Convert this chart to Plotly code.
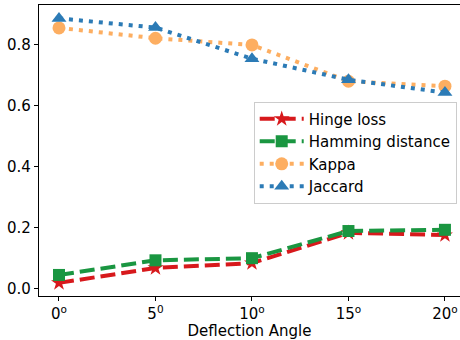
import plotly.graph_objects as go

angles = [0, 5, 10, 15, 20]
tick_labels = ["0<sup>o</sup>", "5<sup>0</sup>", "10<sup>o</sup>", "15<sup>o</sup>", "20<sup>o</sup>"]
hinge = [0.020, 0.069, 0.085, 0.184, 0.177]
hamming = [0.046, 0.094, 0.101, 0.190, 0.194]
kappa = [0.856, 0.822, 0.800, 0.681, 0.665]
jaccard = [0.887, 0.857, 0.755, 0.686, 0.644]

series = [
    ("Hinge loss", hinge, "#d7191c", "star", "15px,6px", 12),
    ("Hamming distance", hamming, "#1a9641", "square", "15px,6px", 12),
    ("Kappa", kappa, "#fdae61", "circle", "4px,6px", 13),
    ("Jaccard", jaccard, "#2c7bb6", "triangle-up", "4px,6px", 13),
]

fig = go.Figure()
for name, vals, color, sym, dash, msize in series:
    fig.add_trace(go.Scatter(
        x=angles, y=vals, name=name, mode="lines+markers",
        line=dict(color=color, width=4, dash=dash),
        marker=dict(symbol=sym, size=msize, color=color, line=dict(width=0)),
    ))

fig.update_layout(
    width=460, height=340,
    margin=dict(l=39, r=0, t=5, b=44),
    plot_bgcolor="white", paper_bgcolor="white",
    font=dict(family="DejaVu Sans", size=15, color="black"),
    showlegend=True,
    legend=dict(
        x=0.51, y=0.668, xanchor="left", yanchor="top",
        bgcolor="rgba(255,255,255,0.8)", bordercolor="#cccccc", borderwidth=1,
        font=dict(size=15), itemwidth=44, tracegroupgap=0,
    ),
)
fig.update_xaxes(
    range=[-1.036, 20.78], tickvals=angles, ticktext=tick_labels,
    showgrid=False, zeroline=False, showline=True, linecolor="black", linewidth=1.2,
    mirror=True, ticks="outside", ticklen=4, tickcolor="black",
    title=dict(text="Deflection Angle", font=dict(size=15), standoff=2),
)
fig.update_yaxes(
    range=[-0.023, 0.931], tickvals=[0.0, 0.2, 0.4, 0.6, 0.8],
    ticktext=["0.0", "0.2", "0.4", "0.6", "0.8"],
    showgrid=False, zeroline=False, showline=True, linecolor="black", linewidth=1.2,
    ticks="outside", ticklen=4, tickcolor="black",
)

fig.write_html("out.html")
